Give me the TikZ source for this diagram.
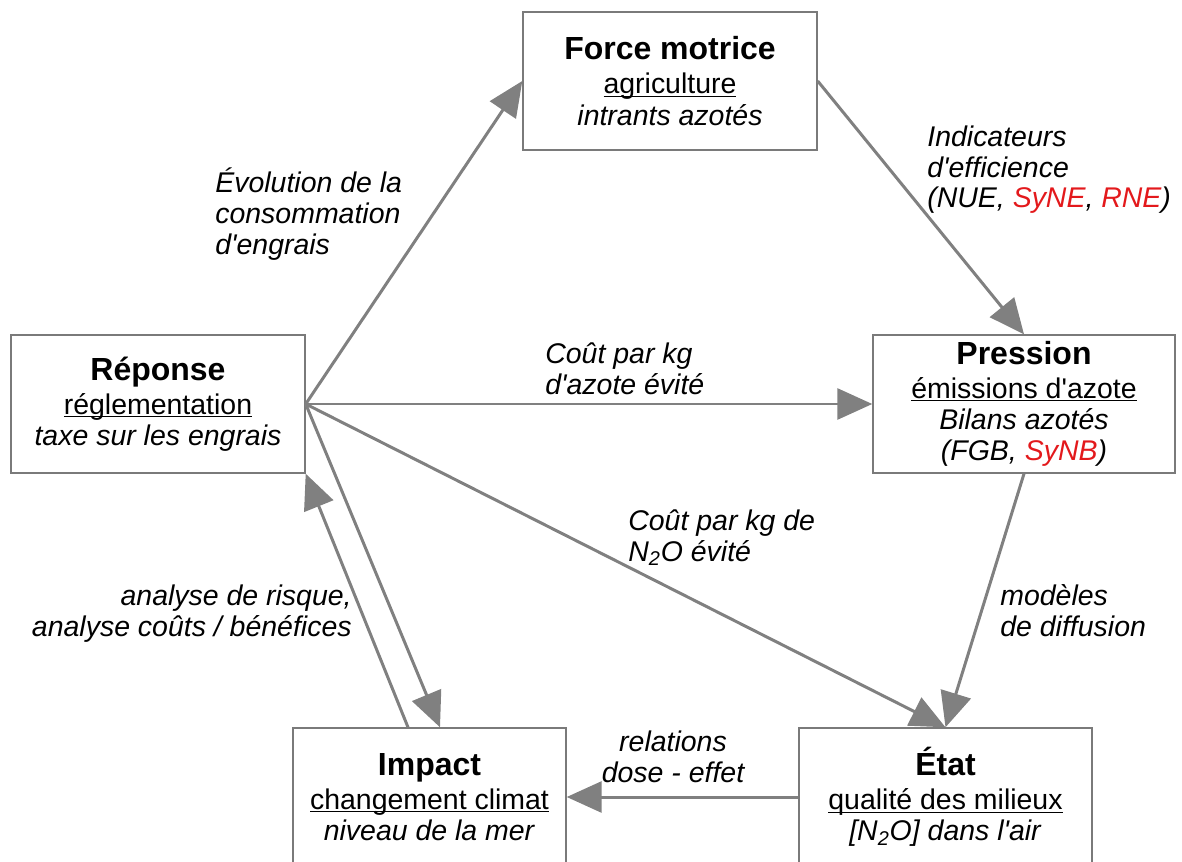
\documentclass[tikz,border=0pt]{standalone}
\usepackage{fontspec}
\setmainfont{Liberation Sans}
\usetikzlibrary{arrows.meta}

\definecolor{flechegris}{HTML}{808080}
\definecolor{boitegris}{HTML}{7A7A7A}
\definecolor{rouge}{HTML}{E3191C}
\newcommand{\boxtitre}[1]{{\fontsize{18.2}{20}\selectfont\bfseries #1}}
\newcommand{\souligne}[1]{\underline{\smash{#1}}}
\newcommand{\apos}{\textquotesingle}

\begin{document}
\begin{tikzpicture}[
    boite/.style={draw=boitegris, line width=0.8pt, minimum height=2.76cm, inner sep=0pt,
                  align=center, font=\fontsize{16.2}{17.8}\selectfont},
    fleche/.style={draw=flechegris, line width=1.7pt, -{Triangle[length=0.7cm,width=0.62cm]}},
    etiq/.style={inner sep=0pt, font=\fontsize{16.2}{17.6}\selectfont\itshape}
]
    \useasboundingbox (0,0) rectangle (23.64,17.22);
    \clip (0,0) rectangle (23.64,17.22);

    % les cinq boites
    \node[boite, minimum width=5.88cm] (force) at (13.40,15.60)
        {\boxtitre{Force motrice}\\[1.5pt] \souligne{agriculture}\\ \textit{intrants azotés}};
    \node[boite, minimum width=5.88cm] (rep) at (3.16,9.14)
        {\boxtitre{Réponse}\\[1.5pt] \souligne{réglementation}\\ \textit{taxe sur les engrais}};
    \node[boite, minimum width=6.04cm] (pres) at (20.48,9.14)
        {\boxtitre{Pression}\\[1.5pt] \souligne{émissions d\apos azote}\\ \textit{Bilans azotés}\\
         \textit{(FGB, \textcolor{rouge}{SyNB})}};
    \node[boite, minimum width=5.46cm] (imp) at (8.59,1.28)
        {\boxtitre{Impact}\\[1.5pt] \souligne{changement climat}\\ \textit{niveau de la mer}};
    \node[boite, minimum width=5.86cm] (etat) at (18.91,1.28)
        {\boxtitre{État}\\[1.5pt] \souligne{qualité des milieux}\\ \textit{[N\textsubscript{2}O] dans l\apos air}};

    % les fleches
    \draw[fleche] (rep.east) -- (force.west);
    \draw[fleche] (force.east) -- (pres.north);
    \draw[fleche] (rep.east) -- (pres.west);
    \draw[fleche] (rep.east) -- (etat.north);
    \draw[fleche] (pres.south) -- (etat.north);
    \draw[fleche] (rep.east) -- ([xshift=0.21cm]imp.north);
    \draw[fleche] ([xshift=-0.43cm]imp.north) -- (rep.south east);
    \draw[fleche] (etat.west) -- (imp.east);

    % les etiquettes (ancre sur la derniere ligne)
    \node[etiq, anchor=base west, align=left] (evol) at (4.30,12.14)
        {Évolution de la\\ consommation\\ d\apos engrais};
    \node[etiq, anchor=base west, align=left] (indic) at (18.54,13.06)
        {Indicateurs\\ d\apos efficience\\ (NUE, \textcolor{rouge}{SyNE}, \textcolor{rouge}{RNE})};
    \node[etiq, anchor=base west, align=left] (cout1) at (10.90,9.34)
        {Coût par kg\\ d\apos azote évité};
    \node[etiq, anchor=base west, align=left] (cout2) at (12.56,6.00)
        {Coût par kg de\\ N\textsubscript{2}O évité};
    \node[etiq, anchor=base east, align=right] (risque) at (7.04,4.50)
        {analyse de risque,\\ analyse coûts / bénéfices};
    \node[etiq, anchor=base west, align=left] (modeles) at (20.00,4.50)
        {modèles\\ de diffusion};
    \node[etiq, anchor=base, align=center] (dose) at (13.46,1.58)
        {relations\\ dose - effet};
\end{tikzpicture}
\end{document}
